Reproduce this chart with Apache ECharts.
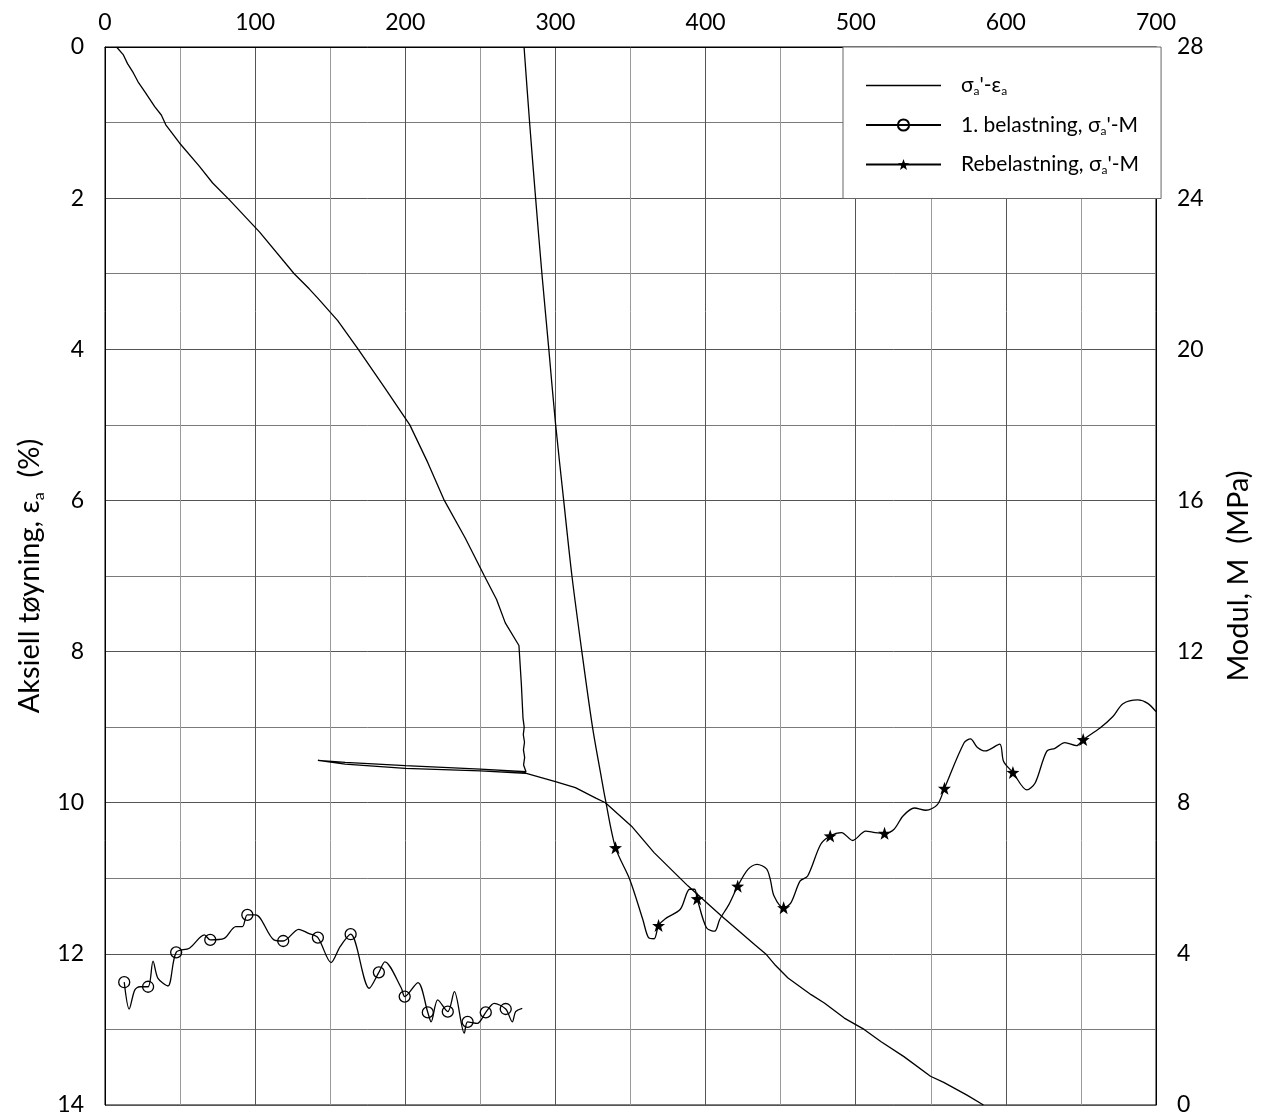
<!DOCTYPE html>
<html>
<head>
<meta charset="utf-8">
<script src="https://cdn.jsdelivr.net/npm/echarts@6/dist/echarts.min.js"></script>
<style>
html,body{margin:0;padding:0;background:#fff;}
#chart{width:1261px;height:1119px;}
</style>
</head>
<body>
<div id="chart"></div>
<script>
// ---- Data ----
var xTicks = [0, 100, 200, 300, 400, 500, 600, 700];
var leftTicks = [0, 2, 4, 6, 8, 10, 12, 14];
var rightTicks = [0, 4, 8, 12, 16, 20, 24, 28];

var seriesNames = ["sigma-eps", "belastning", "rebelastning"];

// σa' (kPa) vs εa (%)
var sigmaEps = [
  [7.7,0],[12.1,0.10],[15.0,0.22],[18.8,0.34],[22.0,0.46],[26.8,0.60],[33.1,0.79],
  [37.5,0.90],[40.5,1.03],[49.6,1.27],[62.9,1.58],[71.7,1.80],[82.7,2.02],[103,2.45],[126,3.0],
  [136,3.20],[142,3.33],[155,3.62],[168.7,4.0],[186,4.5],[203,5.0],[215,5.5],[226,6.0],[240,6.5],
  [252.7,7.0],[260.8,7.31],[266.6,7.62],[275.7,7.92],[277.3,8.43],[278.4,8.88],[279.2,9.0],
  [278.6,9.1],[279.4,9.2],[278.7,9.3],[279.5,9.4],[278.8,9.5],[280.4,9.59],[250,9.555],[200,9.51],
  [160,9.465],[141.8,9.44],[160,9.49],[200,9.545],[250,9.58],[280,9.61],[300,9.72],[313.3,9.80],
  [326.9,9.94],[333.3,10.0],[350.7,10.31],[365.7,10.66],[388.2,11.10],[410.6,11.50],[432.8,11.88],
  [440.5,12.01],[446.0,12.14],[454.9,12.32],[470.3,12.54],[479.1,12.65],[492.4,12.85],[505.6,13.0],
  [516.7,13.16],[532.1,13.36],[549.8,13.62],[558.6,13.70],[574.1,13.87],[585.1,14.0]
];

// 1. belastning: σa' vs M (MPa) — line path and marked points
var belastningPath = [
  [16.1,2.54],[19.8,3.04],[23.2,3.13],[32,3.81],[35.3,3.35],[41.9,3.15],[56.2,4.15],[66.2,4.5],
  [79.4,4.41],[87.1,4.72],[91.5,4.72],[100.4,5.03],[112.5,4.37],[129,4.65],[135.6,4.54],[150.6,3.77],
  [156.6,4.19],[176,3.09],[186.4,3.79],[197.4,3.09],[208.4,3.24],[217.2,2.20],[221.6,2.78],[232.7,3.0],
  [239.3,1.9],[248,2.16],[259.2,2.69],[271.3,2.2],[273.5,2.47],[277.9,2.56]
];
var belastningMarks = [
  [12.8,3.25],[28.7,3.13],[47.4,4.04],[70.1,4.37],[94.8,5.03],[118.7,4.34],[141.8,4.43],[163.6,4.52],
  [182.4,3.51],[199.6,2.87],[215,2.45],[228.3,2.47],[241.5,2.20],[253.6,2.45],[266.9,2.54]
];

// Rebelastning: σa' vs M (MPa)
var rebelastningPath = [
  [279.1,28],[282.8,26.0],[286.8,24.0],[291.0,22.0],[295.6,20.0],[300,18.06],[305.5,16.0],[311.0,14.0],
  [317.6,12.0],[324.7,10.0],[330.8,8.62],[333.1,8.12],[349.5,5.97],[358.2,4.91],[362,4.43],[365.7,4.40],
  [373.2,4.93],[383.2,5.18],[389.4,5.71],[392.7,5.71],[400.6,4.69],[406.1,4.60],[409.4,4.91],[415.6,5.31],
  [428.1,6.23],[434.3,6.37],[440.6,6.25],[443.1,5.97],[445.6,5.53],[456.8,5.35],[463.0,5.93],[468.0,6.06],
  [476.7,6.90],[490.5,7.21],[498.0,7.0],[506.7,7.25],[512.9,7.21],[525.4,7.29],[531.5,7.65],[539.1,7.86],
  [546.7,7.80],[554.4,7.95],[572.1,9.58],[576.5,9.69],[580.9,9.47],[586.4,9.37],[595.9,9.55],[598.5,9.09],
  [614.0,8.34],[619.5,8.52],[627.2,9.36],[632.7,9.44],[639.3,9.59],[647.1,9.51],[662.5,9.97],[671.3,10.28],
  [678.0,10.62],[687.9,10.72],[694.5,10.63],[700,10.41]
];
var rebelastningMarks = [
  [340.0,6.81],[368.7,4.75],[394.4,5.46],[421.4,5.79],[452.0,5.22],[483.0,7.12],[519.2,7.19],
  [559.1,8.38],[604.7,8.80],[651.5,9.67]
];

// ---- Build ----
function merge(path, marks) {
  var items = [];
  path.forEach(function (p) { items.push({ value: p, symbol: 'none' }); });
  marks.forEach(function (p) { items.push({ value: p }); });
  items.sort(function (a, b) { return a.value[0] - b.value[0]; });
  return items;
}

var FONT = 'Lato, "Open Sans", sans-serif';
var starPath = 'path://M0,-10 L2.35,-3.24 L9.51,-3.09 L3.8,1.24 L5.88,8.09 L0,4 L-5.88,8.09 L-3.8,1.24 L-9.51,-3.09 L-2.35,-3.24 Z';

var legendText = {
  "sigma-eps": "{t|σ}{s|a}{t|'-ε}{s|a}",
  "belastning": "{t|1. belastning, σ}{s|a}{t|'-M}",
  "rebelastning": "{t|Rebelastning, σ}{s|a}{t|'-M}"
};

var chart = echarts.init(document.getElementById('chart'), null, { renderer: 'canvas' });

var option = {
  animation: false,
  backgroundColor: '#fff',
  grid: { left: 105, right: 98, top: 47, bottom: 14, show: true, borderColor: '#000', borderWidth: 1, backgroundColor: 'transparent' },
  legend: {
    orient: 'vertical',
    left: 843, top: 47,
    backgroundColor: '#fff',
    borderColor: '#666', borderWidth: 1,
    padding: [28, 22, 22, 22],
    itemWidth: 75, itemHeight: 14, itemGap: 17,
    data: [
      { name: seriesNames[0], icon: 'path://M0,0 L100,0 L100,2 L0,2 Z' },
      { name: seriesNames[1] },
      { name: seriesNames[2] }
    ],
    formatter: function (n) { return legendText[n]; },
    textStyle: {
      color: '#000',
      padding: [0, 0, 0, 15],
      rich: {
        t: { fontSize: 21, fontFamily: FONT, color: '#000', lineHeight: 24 },
        s: { fontSize: 12, fontFamily: FONT, color: '#000', lineHeight: 24, verticalAlign: 'bottom' }
      }
    }
  },
  xAxis: {
    type: 'value', position: 'top', min: xTicks[0], max: xTicks[xTicks.length - 1], interval: 100,
    axisLine: { show: true, lineStyle: { color: '#000', width: 1 } },
    axisTick: { show: false },
    axisLabel: { fontSize: 23, fontFamily: FONT, color: '#000', margin: 13 },
    splitLine: { show: true, lineStyle: { color: '#555', width: 1 } },
    minorTick: { show: false, splitNumber: 2 },
    minorSplitLine: { show: true, lineStyle: { color: '#9a9a9a', width: 1 } }
  },
  yAxis: [
    {
      type: 'value', position: 'left', inverse: true, min: leftTicks[0], max: leftTicks[leftTicks.length - 1], interval: 2,
      axisLine: { show: true, lineStyle: { color: '#000', width: 1 } },
      axisTick: { show: false },
      axisLabel: { fontSize: 23, fontFamily: FONT, color: '#000', margin: 21 },
      splitLine: { show: true, lineStyle: { color: '#555', width: 1 } },
      minorTick: { show: false, splitNumber: 2 },
      minorSplitLine: { show: true, lineStyle: { color: '#7a7a7a', width: 1 } },
      name: "{n|Aksiell tøyning, ε}{s|a}{n|  (%)}",
      nameLocation: 'middle', nameRotate: 90, nameGap: 58,
      nameTextStyle: {
        rich: {
          n: { fontSize: 29, fontFamily: FONT, color: '#000', lineHeight: 34 },
          s: { fontSize: 16, fontFamily: FONT, color: '#000', lineHeight: 34, verticalAlign: 'bottom' }
        }
      }
    },
    {
      type: 'value', position: 'right', min: rightTicks[0], max: rightTicks[rightTicks.length - 1], interval: 4,
      axisLine: { show: true, lineStyle: { color: '#000', width: 1 } },
      axisTick: { show: false },
      axisLabel: { fontSize: 23, fontFamily: FONT, color: '#000', margin: 21 },
      splitLine: { show: false },
      name: "Modul, M  (MPa)",
      nameLocation: 'middle', nameRotate: 90, nameGap: 68,
      nameTextStyle: { fontSize: 29, fontFamily: FONT, color: '#000' }
    }
  ],
  series: [
    {
      name: seriesNames[0], type: 'line', xAxisIndex: 0, yAxisIndex: 0,
      data: sigmaEps, symbol: 'none', showSymbol: false,
      lineStyle: { color: '#000', width: 1.3 }, itemStyle: { color: '#000' }
    },
    {
      name: seriesNames[1], type: 'line', xAxisIndex: 0, yAxisIndex: 1,
      data: merge(belastningPath, belastningMarks), smooth: 0.3,
      symbol: 'circle', symbolSize: 11, showSymbol: true, showAllSymbol: true,
      lineStyle: { color: '#000', width: 1.3 },
      itemStyle: { color: 'rgba(255,255,255,0)', borderColor: '#000', borderWidth: 1.3 }
    },
    {
      name: seriesNames[2], type: 'line', xAxisIndex: 0, yAxisIndex: 1,
      data: merge(rebelastningPath, rebelastningMarks), smooth: 0.3,
      symbol: starPath, symbolSize: 13, showSymbol: true, showAllSymbol: true,
      lineStyle: { color: '#000', width: 1.3 },
      itemStyle: { color: '#000', borderWidth: 0 }
    }
  ]
};
chart.setOption(option);
</script>
</body>
</html>
